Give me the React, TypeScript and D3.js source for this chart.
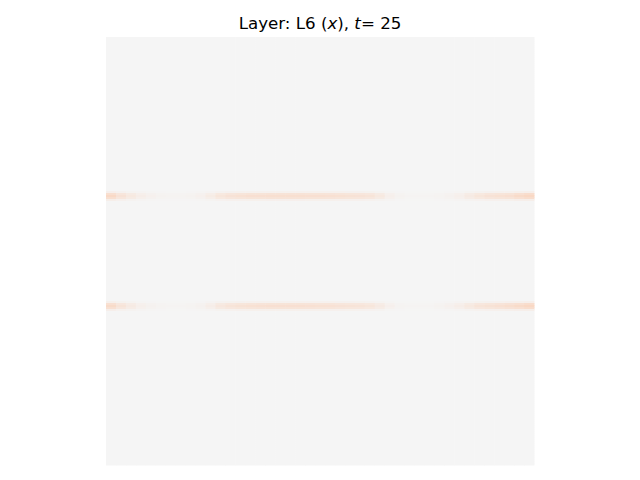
import { useEffect, useRef } from 'react'
import * as d3 from 'd3'

// intensity of each streak along x (43 columns), 0 = background, 1 = strongest
const upperStreak = [
  0.9, 0.6, 0.4, 0.25, 0.15, 0.1, 0.08, 0.08, 0.1, 0.15,
  0.3, 0.5, 0.6, 0.65, 0.7, 0.7, 0.72, 0.72, 0.72, 0.72,
  0.7, 0.7, 0.68, 0.65, 0.62, 0.6, 0.55, 0.4, 0.2, 0.1,
  0.05, 0.05, 0.05, 0.08, 0.12, 0.2, 0.35, 0.5, 0.6, 0.65,
  0.7, 0.85, 0.95,
]
const lowerStreak = [
  0.85, 0.55, 0.35, 0.2, 0.12, 0.08, 0.06, 0.06, 0.08, 0.12,
  0.25, 0.45, 0.55, 0.62, 0.66, 0.68, 0.7, 0.7, 0.7, 0.7,
  0.68, 0.66, 0.64, 0.6, 0.58, 0.55, 0.5, 0.35, 0.18, 0.08,
  0.05, 0.05, 0.06, 0.1, 0.15, 0.25, 0.4, 0.55, 0.62, 0.68,
  0.75, 0.85, 0.95,
]
// vertical profile of each streak (rows of the 214-row grid)
const upperRows = [77, 78, 79, 80, 81]
const lowerRows = [132, 133, 134, 135, 136]
const rowWeights = [0.2, 0.8, 1, 0.8, 0.25]

const NROWS = 214
const NCOLS = upperStreak.length

export default function App() {
  const svgRef = useRef<SVGSVGElement>(null)

  useEffect(() => {
    const W = 640
    const H = 480
    const margin = { top: 37, left: 106 }
    const size = 428

    const svg = d3.select(svgRef.current)
    svg.selectAll('*').remove()
    svg.attr('width', W).attr('height', H)

    const x = d3.scaleBand<number>().domain(d3.range(NCOLS)).range([0, size])
    const y = d3.scaleBand<number>().domain(d3.range(NROWS)).range([0, size])
    const color = d3.scaleLinear<string>()
      .domain([0, 1])
      .range(['#f5f5f5', '#f9d6c1'])
      .interpolate(d3.interpolateRgb)

    const cells: { r: number; c: number; v: number }[] = []
    for (let r = 0; r < NROWS; r++) {
      for (let c = 0; c < NCOLS; c++) {
        let v = 0
        const iu = upperRows.indexOf(r)
        if (iu >= 0) v = upperStreak[c] * rowWeights[iu]
        const il = lowerRows.indexOf(r)
        if (il >= 0) v = lowerStreak[c] * rowWeights[il]
        cells.push({ r, c, v })
      }
    }

    const g = svg.append('g').attr('transform', `translate(${margin.left},${margin.top})`)

    g.selectAll('rect')
      .data(cells)
      .join('rect')
      .attr('x', (d) => x(d.c)!)
      .attr('y', (d) => y(d.r)!)
      .attr('width', x.bandwidth() + 0.5)
      .attr('height', y.bandwidth() + 0.5)
      .attr('fill', (d) => color(d.v))

    // title
    const title = svg.append('text')
      .attr('x', W / 2)
      .attr('y', 29)
      .attr('text-anchor', 'middle')
      .attr('font-family', 'DejaVu Sans')
      .attr('font-size', 16.67)
      .attr('fill', '#000')
      .attr('xml:space', 'preserve')
    title.append('tspan').text('Layer: L6 (')
    title.append('tspan').attr('font-style', 'italic').text('x')
    title.append('tspan').text('), ')
    title.append('tspan').attr('font-style', 'italic').text('t')
    title.append('tspan').text('= 25')
  }, [])

  return (
    <div style={{ position: 'absolute', left: 0, top: 0 }}>
      <svg ref={svgRef} style={{ display: 'block' }} />
    </div>
  )
}
